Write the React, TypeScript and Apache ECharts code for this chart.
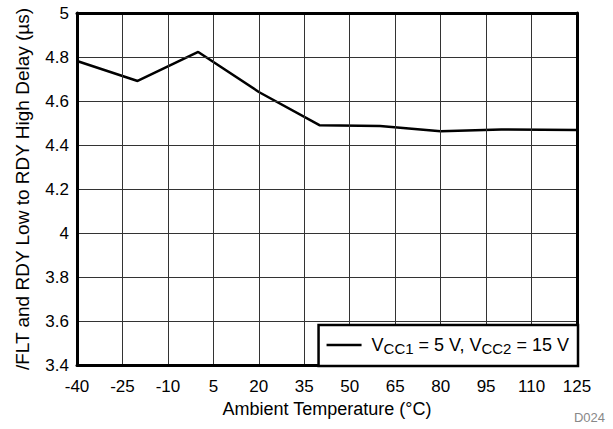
import React, { useEffect, useRef } from "react";
import * as echarts from "echarts";

const temps = [-40, -20, 0, 20, 40, 60, 80, 100, 125];
const delays = [4.782, 4.691, 4.823, 4.641, 4.49, 4.486, 4.463, 4.471, 4.468];
const xTickMin = -40;
const xTickMax = 125;
const xTickStep = 15;
const yTickMin = 3.4;
const yTickMax = 5;
const yTickStep = 0.2;
const seriesName = "VCC1 = 5 V, VCC2 = 15 V";

export default function App() {
  const ref = useRef<HTMLDivElement>(null);
  useEffect(() => {
    const chart = echarts.init(ref.current!, null, { renderer: "svg" });
    const font = "Liberation Sans, Arial, sans-serif";
    const border = { show: true, onZero: false, lineStyle: { color: "#000", width: 3 } };
    const grid = { color: "#333", width: 1 };
    chart.setOption({
      animation: false,
      backgroundColor: "#fff",
      grid: { left: 77, right: 36, top: 13, bottom: 64 },
      xAxis: [
        {
          type: "value",
          min: xTickMin,
          max: xTickMax,
          interval: xTickStep,
          name: "Ambient Temperature (\u00B0C)",
          nameLocation: "middle",
          nameGap: 33,
          nameTextStyle: { color: "#000", fontSize: 18, fontFamily: font },
          axisLine: border,
          axisTick: { show: false },
          axisLabel: { color: "#000", fontSize: 17, fontFamily: font, margin: 13 },
          splitLine: { show: true, lineStyle: grid },
          z: 5,
        },
        {
          type: "value",
          position: "top",
          min: xTickMin,
          max: xTickMax,
          interval: xTickStep,
          axisLine: border,
          axisTick: { show: false },
          axisLabel: { show: false },
          splitLine: { show: false },
          z: 5,
        },
      ],
      yAxis: [
        {
          type: "value",
          min: yTickMin,
          max: yTickMax,
          interval: yTickStep,
          name: "/FLT and RDY Low to RDY High Delay (\u00B5s)",
          nameLocation: "middle",
          nameGap: 45,
          nameTextStyle: { color: "#000", fontSize: 19, fontFamily: font },
          axisLine: border,
          axisTick: { show: false },
          axisLabel: {
            color: "#000",
            fontSize: 17,
            fontFamily: font,
            margin: 8,
            formatter: (v: number) => String(Math.round(v * 10) / 10),
          },
          splitLine: { show: true, lineStyle: grid },
          z: 5,
        },
        {
          type: "value",
          position: "right",
          min: yTickMin,
          max: yTickMax,
          interval: yTickStep,
          axisLine: border,
          axisTick: { show: false },
          axisLabel: { show: false },
          splitLine: { show: false },
          z: 5,
        },
      ],
      legend: {
        right: 35,
        bottom: 63,
        orient: "horizontal",
        backgroundColor: "#fff",
        borderColor: "#000",
        borderWidth: 2.5,
        borderRadius: 0,
        padding: [11, 9, 10, 8],
        icon: "rect",
        itemWidth: 35,
        itemHeight: 2.5,
        itemGap: 0,
        itemStyle: { color: "#000" },
        data: [{ name: seriesName }],
        formatter: () => "{f|V}{s|CC1}{n| = 5 V, V}{s|CC2}{n| = 15 V}",
        textStyle: {
          color: "#000",
          fontSize: 18,
          fontFamily: font,
          rich: {
            f: { fontSize: 18, fontFamily: font, color: "#000", padding: [0, 0, 0, 5] },
            n: { fontSize: 18, fontFamily: font, color: "#000" },
            s: { fontSize: 15, fontFamily: font, color: "#000", padding: [7, 0, 0, 0] },
          },
        },
        z: 10,
      },
      graphic: [
        {
          type: "text",
          right: 8,
          bottom: 5,
          style: { text: "D024", fill: "#888", fontSize: 13, fontFamily: font },
        },
      ],
      series: [
        {
          name: seriesName,
          type: "line",
          data: temps.map((t, i) => [t, delays[i]]),
          symbol: "none",
          lineStyle: { color: "#000", width: 2.5 },
          itemStyle: { color: "#000" },
          z: 3,
        },
      ],
    });
    return () => chart.dispose();
  }, []);
  return (
    <div
      ref={ref}
      style={{ position: "absolute", left: 0, top: 0, width: 613, height: 429 }}
    />
  );
}
